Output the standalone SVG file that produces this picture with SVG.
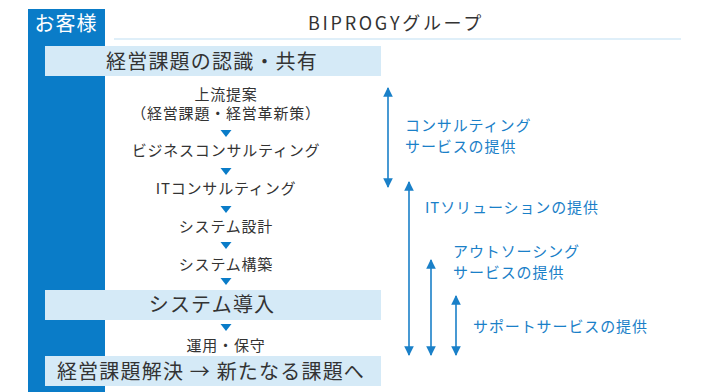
<svg xmlns="http://www.w3.org/2000/svg" width="722" height="392" viewBox="0 0 722 392">
<defs>
<style>
text{font-family:"Noto Sans CJK JP","Noto Sans",sans-serif;}
.t{fill:#333;font-size:15px;text-anchor:middle;letter-spacing:0.8px;}
.b{fill:#333;font-size:20px;text-anchor:middle;letter-spacing:1.2px;}
.s{fill:#1a80c8;font-size:15px;letter-spacing:0.9px;}
.band{fill:#d5eaf7;}
.tri{fill:#0a7cc8;}
.ar{stroke:#1a80c8;stroke-width:1.6;fill:none;}
</style>
<marker id="ah" viewBox="0 0 10 10" refX="9" refY="5" markerWidth="6" markerHeight="6" orient="auto-start-reverse" markerUnits="strokeWidth">
<path d="M0,0 L10,5 L0,10 z" fill="#1a80c8"/>
</marker>
</defs>
<rect width="722" height="392" fill="#fff"/>
<g id="customer">
<rect x="28" y="9" width="77" height="383" fill="#0a7cc8"/>
<text x="66" y="31" fill="#fff" font-size="20" text-anchor="middle" letter-spacing="1">お客様</text>
</g>
<g id="header">
<text x="396" y="30" fill="#333" font-size="18" text-anchor="middle" letter-spacing="2.7">BIPROGYグループ</text>
<line x1="114" y1="39" x2="681" y2="39" stroke="#d5eaf7" stroke-width="1.5"/>
</g>
<g id="band1">
<rect class="band" x="45" y="46" width="336" height="30"/>
<text class="b" x="212" y="69">経営課題の認識・共有</text>
</g>
<g id="step1"><text class="t" x="226" y="100">上流提案</text><text class="t" x="226" y="119">（経営課題・経営革新策）</text></g>
<g id="step2"><text class="t" x="226" y="156">ビジネスコンサルティング</text></g>
<g id="step3"><text class="t" x="226" y="194">ITコンサルティング</text></g>
<g id="step4"><text class="t" x="226" y="232">システム設計</text></g>
<g id="step5"><text class="t" x="226" y="270">システム構築</text></g>
<g id="band2">
<rect class="band" x="45" y="290" width="336" height="30"/>
<text class="b" x="212" y="312">システム導入</text>
</g>
<g id="step6"><text class="t" x="226" y="351">運用・保守</text></g>
<g id="band3">
<rect class="band" x="45" y="356" width="336" height="30"/>
<text class="b" x="211" y="379" letter-spacing="1.8">経営課題解決 → 新たなる課題へ</text>
</g>
<g id="connectors">
<path class="tri" d="M220.5,130 h11 l-5.5,7 z"/>
<path class="tri" d="M220.5,168 h11 l-5.5,7 z"/>
<path class="tri" d="M220.5,206 h11 l-5.5,7 z"/>
<path class="tri" d="M220.5,242 h11 l-5.5,7 z"/>
<path class="tri" d="M220.5,278 h11 l-5.5,7 z"/>
<path class="tri" d="M220.5,324 h11 l-5.5,7 z"/>
<line class="ar" x1="388" y1="88" x2="388" y2="187" marker-start="url(#ah)" marker-end="url(#ah)"/>
<line class="ar" x1="409" y1="182" x2="409" y2="355" marker-start="url(#ah)" marker-end="url(#ah)"/>
<line class="ar" x1="431" y1="260" x2="431" y2="355" marker-start="url(#ah)" marker-end="url(#ah)"/>
<line class="ar" x1="456" y1="296" x2="456" y2="355" marker-start="url(#ah)" marker-end="url(#ah)"/>
</g>
<g id="label-consulting"><text class="s" x="405" y="131">コンサルティング</text><text class="s" x="405" y="152">サービスの提供</text></g>
<g id="label-it"><text class="s" x="425" y="213">ITソリューションの提供</text></g>
<g id="label-outsourcing"><text class="s" x="453" y="257">アウトソーシング</text><text class="s" x="453" y="278">サービスの提供</text></g>
<g id="label-support"><text class="s" x="473" y="332">サポートサービスの提供</text></g>
</svg>
